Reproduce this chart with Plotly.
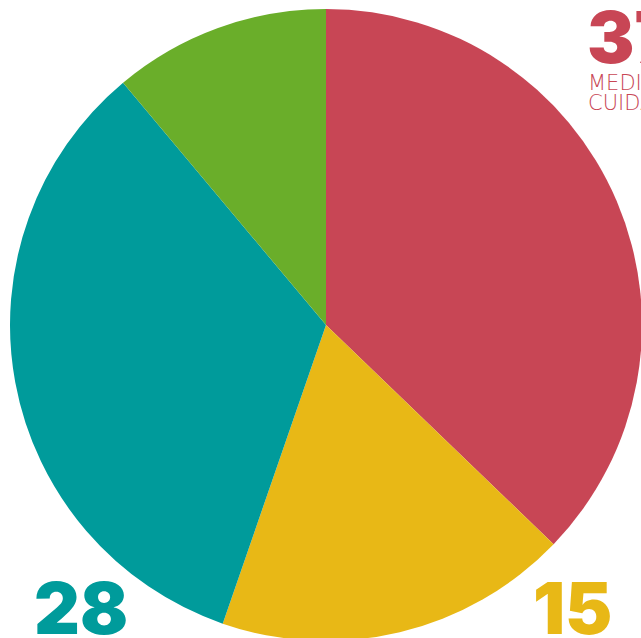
import plotly.graph_objects as go

categories = ["Medicamentos", "Otros A", "Otros B", "Otros C"]
values = [37.2, 18.1, 33.6, 11.1]
colors = ["#C84655", "#E8B816", "#009B9B", "#6AAE2A"]

label_texts = ["37", "15", "28"]
sub_lines = ["MEDICAMENTOS", "CUIDADOS"]

W, H = 652, 650

fig = go.Figure(go.Pie(
    labels=categories,
    values=values,
    sort=False,
    direction="clockwise",
    rotation=0,
    marker=dict(colors=colors, line=dict(width=0)),
    textinfo="none",
    hoverinfo="label+percent",
    domain=dict(x=[10 / W, 642 / W], y=[(H - 641) / H, (H - 9) / H]),
    showlegend=False,
))

def px(x):
    return x / W

def py(y):
    return (H - y) / H

big = dict(family="Inter, Roboto, sans-serif", size=71, weight=900)
small = dict(family="DejaVu Sans, sans-serif", size=21, weight=300)

fig.add_annotation(text=label_texts[0], x=px(585), y=py(37), xref="paper", yref="paper",
                   xanchor="left", yanchor="middle", showarrow=False,
                   font=dict(color=colors[0], **big))
fig.add_annotation(text=sub_lines[0], x=px(586), y=py(83), xref="paper", yref="paper",
                   xanchor="left", yanchor="middle", showarrow=False,
                   font=dict(color=colors[0], **small))
fig.add_annotation(text=sub_lines[1], x=px(586), y=py(103), xref="paper", yref="paper",
                   xanchor="left", yanchor="middle", showarrow=False,
                   font=dict(color=colors[0], **small))
fig.add_annotation(text=label_texts[2], x=px(32), y=py(608), xref="paper", yref="paper",
                   xanchor="left", yanchor="middle", showarrow=False,
                   font=dict(color=colors[2], **big))
fig.add_annotation(text=label_texts[1], x=px(531), y=py(608), xref="paper", yref="paper",
                   xanchor="left", yanchor="middle", showarrow=False,
                   font=dict(color=colors[1], **big))

fig.update_layout(
    width=W, height=H, autosize=False,
    margin=dict(l=0, r=0, t=0, b=0, pad=0),
    paper_bgcolor="white", plot_bgcolor="white",
)

fig.write_html("out.html", post_script=
    "document.documentElement.style.overflow='hidden';document.body.style.overflow='hidden';document.body.style.margin='0';")
